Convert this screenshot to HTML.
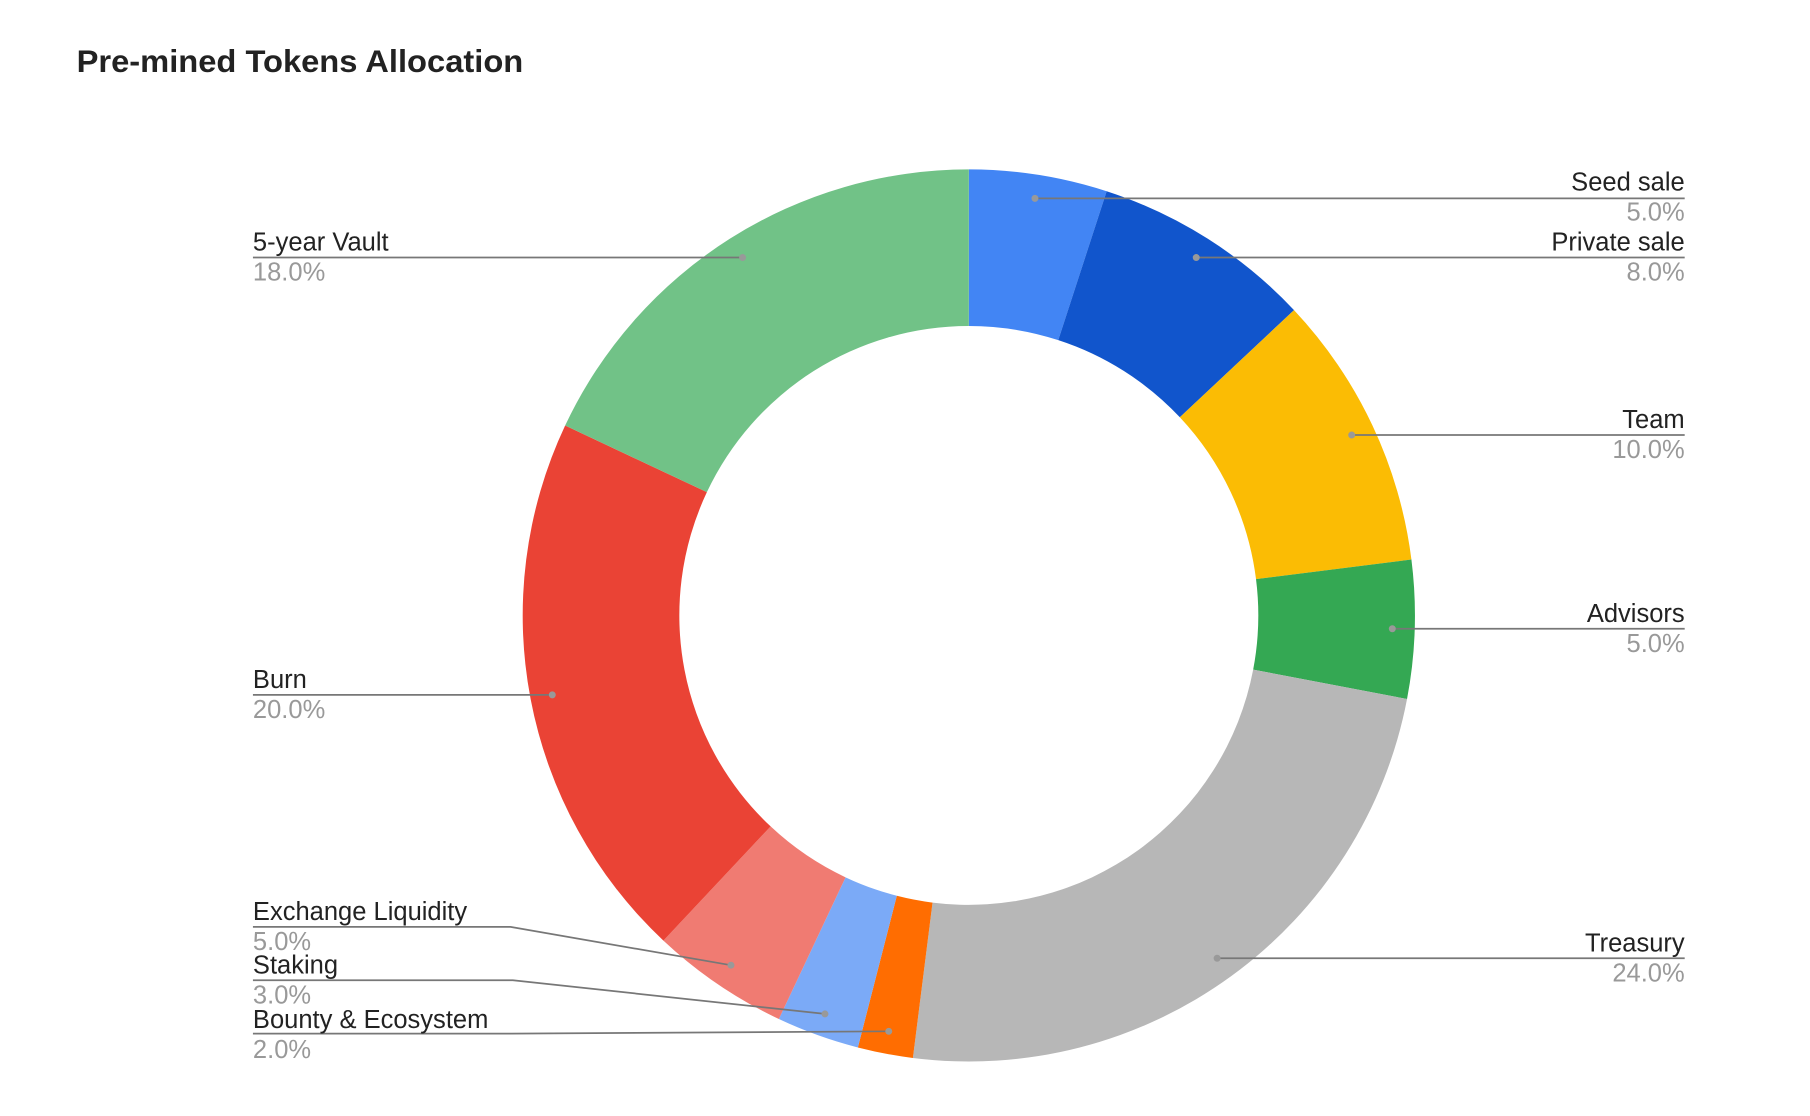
<!DOCTYPE html>
<html><head><meta charset="utf-8"><style>
html,body{margin:0;padding:0;background:#fff;}
svg{display:block;}
text{font-family:"Liberation Sans",Arial,sans-serif;}
</style></head><body>
<svg id="s" width="1810" height="1116" viewBox="0 0 1560 962" preserveAspectRatio="none" xmlns="http://www.w3.org/2000/svg">
<rect width="1560" height="962" fill="#fff"/>
<text x="66" y="62" font-size="27.5" font-weight="bold" fill="#222" textLength="385" lengthAdjust="spacingAndGlyphs">Pre-mined Tokens Allocation</text>
<g id="slices"></g>
<g stroke="#777" stroke-width="1.5" fill="none">
<polyline points="892,171 1452,171"/>
<polyline points="1031,222 1452,222"/>
<polyline points="1165,375 1452,375"/>
<polyline points="1200,542 1452,542"/>
<polyline points="1049,826 1452,826"/>
<polyline points="640,222 218,222"/>
<polyline points="476,599 218,599"/>
<polyline points="630,832 440,799 218,799"/>
<polyline points="711,874 442,845 218,845"/>
<polyline points="766,889 440,891 218,891"/>
</g>
<g fill="#999">
<circle cx="892" cy="171" r="3"/><circle cx="1031" cy="222" r="3"/><circle cx="1165" cy="375" r="3"/>
<circle cx="1200" cy="542" r="3"/><circle cx="1049" cy="826" r="3"/><circle cx="640" cy="222" r="3"/>
<circle cx="476" cy="599" r="3"/><circle cx="630" cy="832" r="3"/><circle cx="711" cy="874" r="3"/><circle cx="766" cy="889" r="3"/>
</g>
<g font-size="22" text-anchor="end">
<text x="1452" y="164" fill="#222">Seed sale</text><text x="1452" y="190" fill="#999">5.0%</text>
<text x="1452" y="216" fill="#222">Private sale</text><text x="1452" y="242" fill="#999">8.0%</text>
<text x="1452" y="369" fill="#222">Team</text><text x="1452" y="395" fill="#999">10.0%</text>
<text x="1452" y="536" fill="#222">Advisors</text><text x="1452" y="562" fill="#999">5.0%</text>
<text x="1452" y="820" fill="#222">Treasury</text><text x="1452" y="846" fill="#999">24.0%</text>
</g>
<g font-size="22">
<text x="218" y="216" fill="#222">5-year Vault</text><text x="218" y="242" fill="#999">18.0%</text>
<text x="218" y="593" fill="#222">Burn</text><text x="218" y="619" fill="#999">20.0%</text>
<text x="218" y="793" fill="#222">Exchange Liquidity</text><text x="218" y="819" fill="#999">5.0%</text>
<text x="218" y="839" fill="#222">Staking</text><text x="218" y="865" fill="#999">3.0%</text>
<text x="218" y="886" fill="#222">Bounty &amp; Ecosystem</text><text x="218" y="912" fill="#999">2.0%</text>
</g>
</svg>
<script>
var cx=835,cy=530.5,R=384.5,r=249.5;
var d=[[5,"#4285f4"],[8,"#1155cc"],[10,"#fbbc04"],[5,"#34a853"],[24,"#b7b7b7"],[2,"#ff6d01"],[3,"#7baaf7"],[5,"#f07b72"],[20,"#ea4335"],[18,"#71c287"]];
var a=0,g=document.getElementById("slices"),h="";
function p(ang,rad){var t=ang/100*2*Math.PI;return [cx+rad*Math.sin(t),cy-rad*Math.cos(t)];}
d.forEach(function(s){var b=a+s[0],l=s[0]>50?1:0;var A=p(a,R),B=p(b,R),C=p(b,r),D=p(a,r);
h+='<path fill="'+s[1]+'" d="M'+A+' A'+R+','+R+' 0 '+l+' 1 '+B+' L'+C+' A'+r+','+r+' 0 '+l+' 0 '+D+' Z"/>';a=b;});
g.innerHTML=h;
</script>
</body></html>
